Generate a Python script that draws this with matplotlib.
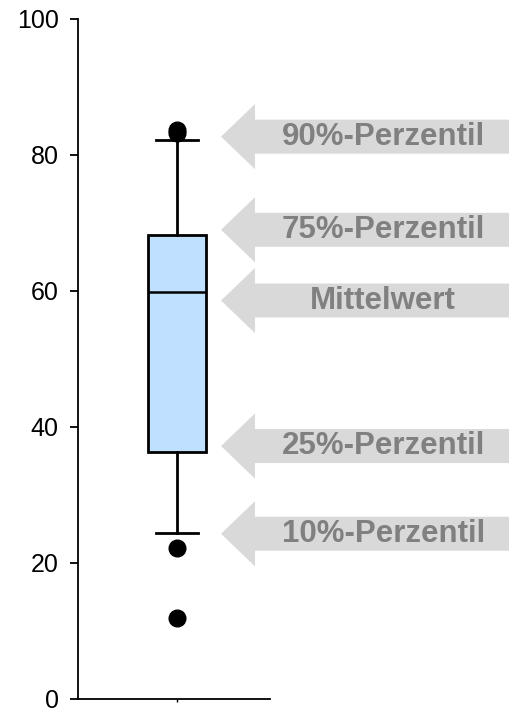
import matplotlib
matplotlib.use("Agg")
import matplotlib.pyplot as plt
from matplotlib.patches import FancyArrow

plt.rcParams['font.family'] = ['Liberation Sans', 'DejaVu Sans']

# box statistics
box_q1 = 36.3
box_median = 59.8
box_q3 = 68.2
whisker_low = 24.4
whisker_high = 82.2
fliers = [83.2, 83.7, 22.2, 11.9]

# arrow labels and the y values they point at
labels = ["90%-Perzentil", "75%-Perzentil", "Mittelwert", "25%-Perzentil", "10%-Perzentil"]
label_y = [82.7, 69.0, 58.6, 37.2, 24.3]

yticks = [0, 20, 40, 60, 80, 100]

fig = plt.figure(figsize=(5.1, 7.08), dpi=100)
ax = fig.add_axes([78 / 510, 1 - 699 / 708, 192 / 510, 680 / 708])

stats = [{'med': box_median, 'q1': box_q1, 'q3': box_q3,
          'whislo': whisker_low, 'whishi': whisker_high, 'fliers': fliers}]
ax.bxp(stats, positions=[0.515], widths=0.30, capwidths=0.22, patch_artist=True,
       boxprops=dict(facecolor='#bfe0ff', edgecolor='black', linewidth=2),
       medianprops=dict(color='black', linewidth=1.8),
       whiskerprops=dict(color='black', linewidth=2),
       capprops=dict(color='black', linewidth=2),
       flierprops=dict(marker='o', markerfacecolor='black', markeredgecolor='black',
                       markersize=12))

ax.set_xlim(0, 1)
ax.set_ylim(0, 100)
ax.set_yticks(yticks)
ax.set_xticks([0.515])
ax.set_xticklabels([''])
ax.tick_params(axis='y', direction='out', length=6, width=1.3, labelsize=18, pad=8)
ax.tick_params(axis='x', direction='out', length=2, width=1)
ax.spines['top'].set_visible(False)
ax.spines['right'].set_visible(False)
ax.spines['left'].set_linewidth(1.3)
ax.spines['bottom'].set_linewidth(1.3)

# gray arrows pointing at the box, running off the right edge
tip_x = 0.745
end_x = 2.40
for lab, y in zip(labels, label_y):
    arr = FancyArrow(end_x, y, tip_x - end_x, 0, width=5.0, head_width=9.6,
                     head_length=0.177, length_includes_head=True,
                     color='#d9d9d9', linewidth=0, clip_on=False)
    ax.add_patch(arr)
    ax.text(1.59, y, lab, ha='center', va='center', fontsize=22.5,
            fontweight='bold', color='#808080', clip_on=False)

fig.savefig("out.png", dpi=100)
